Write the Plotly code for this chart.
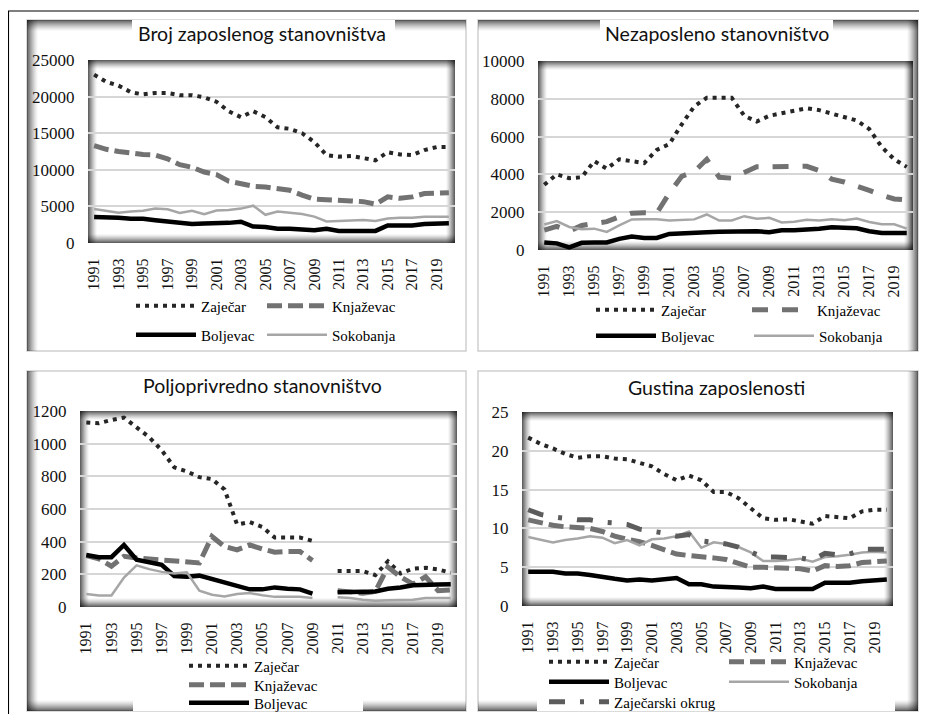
import plotly.graph_objects as go

years = list(range(1991, 2021))
tick_years = list(range(1991, 2020, 2))
tick_labels = [str(y) for y in tick_years]

# Panel 1: Broj zaposlenog stanovništva
p1_zajecar = [23000, 22000, 21500, 20600, 20300, 20500, 20500, 20200, 20200, 19900,
              19300, 18000, 17200, 18000, 17200, 15800, 15600, 15000, 13800, 12000,
              11800, 11900, 11600, 11300, 12400, 12100, 12000, 12700, 13100, 13100]
p1_knjazevac = [13300, 12800, 12500, 12250, 12100, 12000, 11500, 10700, 10350, 9700,
                9350, 8450, 8100, 7750, 7650, 7450, 7200, 6550, 6000, 5900,
                5750, 5750, 5650, 5300, 6300, 6100, 6300, 6750, 6800, 6850]
p1_boljevac = [3550, 3550, 3450, 3300, 3300, 3100, 2950, 2750, 2600, 2650,
               2650, 2750, 2900, 2250, 2200, 1950, 1950, 1900, 1750, 1950,
               1650, 1650, 1600, 1650, 2400, 2400, 2400, 2600, 2700, 2700]
p1_sokobanja = [4650, 4350, 4150, 4300, 4400, 4700, 4600, 4100, 4400, 3950,
                4450, 4500, 4700, 5100, 3850, 4300, 4150, 3950, 3600, 2950,
                3000, 3100, 3150, 3000, 3350, 3450, 3450, 3600, 3600, 3600]

# Panel 2: Nezaposleno stanovništvo
p2_zajecar = [3450, 4000, 3800, 3850, 4700, 4300, 4800, 4700, 4600, 5300,
              5600, 6650, 7600, 8050, 8050, 8050, 7100, 6800, 7100, 7250,
              7400, 7500, 7400, 7200, 7000, 6850, 6400, 5450, 4800, 4400]
p2_knjazevac = [1050, 1250, 1000, 1300, 1400, 1500, 1750, 1950, 1970, 1950,
                3000, 3900, 4150, 4800, 3850, 3800, 4100, 4400, 4400, 4420,
                4430, 4430, 4200, 3750, 3600, 3400, 3150, 2900, 2700, 2650]
p2_boljevac = [400, 350, 140, 380, 400, 400, 590, 710, 640, 640,
               850, 900, 940, 940, 960, 970, 990, 990, 940, 1040,
               1040, 1060, 1130, 1200, 1150, 1150, 990, 900, 900, 900]
p2_sokobanja = [1350, 1530, 1220, 1100, 1130, 960, 1300, 1620, 1630, 1630,
                1560, 1600, 1620, 1880, 1560, 1560, 1790, 1650, 1700, 1460,
                1500, 1600, 1560, 1630, 1580, 1670, 1480, 1360, 1360, 1130]

# Panel 3: Poljoprivredno stanovništvo (2010 missing)
p3_zajecar = [1130, 1125, 1145, 1160, 1100, 1040, 960, 855, 830, 795,
              783, 720, 505, 520, 490, 425, 425, 425, 405, None,
              220, 220, 220, 195, 280, 205, 235, 240, 230, 210]
p3_knjazevac = [315, 295, 250, 310, 300, 295, 290, 280, 275, 270,
                432, 370, 350, 380, 355, 335, 340, 340, 285, None,
                100, 90, 85, 95, 245, 185, 140, 185, 100, 105]
p3_boljevac = [318, 305, 305, 380, 290, 276, 258, 190, 185, 192,
               172, 153, 133, 108, 108, 120, 112, 108, 82, None,
               90, 90, 90, 95, 112, 119, 133, 138, 138, 140]
p3_sokobanja = [80, 70, 70, 180, 255, 232, 215, 205, 212, 100,
                75, 65, 80, 85, 72, 62, 62, 62, 55, None,
                60, 55, 45, 38, 42, 42, 45, 55, 55, 55]

# Panel 4: Gustina zaposlenosti
p4_zajecar = [21.7, 20.9, 20.3, 19.6, 19.1, 19.3, 19.3, 19.0, 18.9, 18.5,
              18.0, 17.0, 16.2, 16.8, 16.2, 14.7, 14.7, 13.9, 12.6, 11.3,
              11.1, 11.2, 10.9, 10.6, 11.6, 11.4, 11.3, 12.2, 12.4, 12.4]
p4_knjazevac = [11.1, 10.7, 10.4, 10.2, 10.1, 10.0, 9.6, 9.0, 8.6, 8.3,
                7.8, 7.2, 6.7, 6.5, 6.4, 6.2, 6.0, 5.5, 5.0, 5.0,
                4.9, 4.9, 4.8, 4.5, 5.2, 5.1, 5.2, 5.6, 5.7, 5.8]
p4_boljevac = [4.4, 4.4, 4.4, 4.2, 4.2, 4.0, 3.7, 3.5, 3.3, 3.4,
               3.3, 3.4, 3.6, 2.8, 2.8, 2.5, 2.5, 2.4, 2.3, 2.5,
               2.2, 2.2, 2.2, 2.2, 3.0, 3.0, 3.0, 3.2, 3.3, 3.4]
p4_sokobanja = [8.9, 8.5, 8.2, 8.5, 8.7, 9.0, 8.8, 8.1, 8.5, 7.8,
                8.6, 8.7, 9.0, 9.6, 7.5, 8.2, 8.0, 7.6, 6.9, 5.8,
                5.8, 5.9, 6.1, 5.7, 6.3, 6.4, 6.6, 6.9, 7.0, 6.9]
p4_okrug = [12.4, 11.8, 11.5, 11.3, 11.1, 11.1, 10.8, 10.7, 10.5, 9.9,
            9.7, 9.4, 9.0, 9.2, 8.4, 8.2, 8.0, 7.6, 7.0, 6.3,
            6.3, 6.3, 6.2, 5.9, 6.8, 6.6, 6.7, 7.3, 7.3, 7.3]

titles = ["Broj zaposlenog stanovništva", "Nezaposleno stanovništvo",
          "Poljoprivredno stanovništvo", "Gustina zaposlenosti"]
names = ["Zaječar", "Knjaževac", "Boljevac", "Sokobanja", "Zaječarski okrug"]

# ---------------- geometry (page pixels) ----------------
W, H = 911, 706
OX, OY = 8, 8


def fx(X):
    return (X - OX) / W


def fy(Y):
    return 1 - (Y - OY) / H


panels = [(27, 20, 466, 351), (478, 20, 918, 351), (27, 371, 466, 711), (478, 371, 918, 711)]
plots = [(88, 60, 455, 243), (538, 61, 913, 250), (80, 411, 457, 607), (522, 412, 893, 606)]
title_pos = [(262, 34), (717, 33), (262, 385), (716, 387)]
title_boxes = [(132, 20, 395, 48), (600, 20, 833, 48), None, None]
panel_shadow_sides = [("left", "top"), ("top", "right"), ("left", "bottom"), ("right", "bottom")]
legend_boxes = [None, None, (133, 650, 363, 711), (537, 650, 895, 711)]
yranges = [25000, 10000, 1200, 25]
ydticks = [5000, 2000, 200, 5]

styles = {
    "Zaječar": dict(color="#262626", width=4, dash="4px,5px"),
    "Knjaževac": dict(color="#727272", width=5, dash="15px,6px"),
    "Boljevac": dict(color="#000000", width=4.5),
    "Sokobanja": dict(color="#a6a6a6", width=2.5),
    "Zaječarski okrug": dict(color="#5c5c5c", width=5, dash="16px,15px,4px,15px"),
}

fig = go.Figure()

panel_series = [
    [("Zaječar", p1_zajecar), ("Knjaževac", p1_knjazevac), ("Boljevac", p1_boljevac), ("Sokobanja", p1_sokobanja)],
    [("Zaječar", p2_zajecar), ("Knjaževac", p2_knjazevac), ("Boljevac", p2_boljevac), ("Sokobanja", p2_sokobanja)],
    [("Zaječar", p3_zajecar), ("Knjaževac", p3_knjazevac), ("Boljevac", p3_boljevac), ("Sokobanja", p3_sokobanja)],
    [("Zaječar", p4_zajecar), ("Knjaževac", p4_knjazevac), ("Boljevac", p4_boljevac), ("Sokobanja", p4_sokobanja),
     ("Zaječarski okrug", p4_okrug)],
]

# legend entry positions: (sample start x, center y)
legend_pos = [
    {"Zaječar": (137, 306), "Knjaževac": (268, 306), "Boljevac": (137, 335), "Sokobanja": (268, 335)},
    {"Zaječar": (597, 310), "Knjaževac": (753, 310), "Boljevac": (597, 336), "Sokobanja": (755, 336)},
    {"Zaječar": (190, 666), "Knjaževac": (190, 685), "Boljevac": (190, 703)},
    {"Zaječar": (550, 662), "Knjaževac": (730, 662), "Boljevac": (550, 682), "Sokobanja": (730, 682),
     "Zaječarski okrug": (550, 702)},
]

SERIF = "Liberation Serif"

legend_layouts = {}
leg_count = 0
for p, series in enumerate(panel_series):
    ax = "" if p == 0 else str(p + 1)
    for name, vals in series:
        st = dict(styles[name])
        if name == "Knjaževac" and p == 1:
            st["dash"] = "16px,14px"
        show = name in legend_pos[p]
        kw = {}
        if show:
            leg_count += 1
            lname = "legend" if leg_count == 1 else "legend%d" % leg_count
            kw["legend"] = lname
            Xs, Yc = legend_pos[p][name]
            legend_layouts[lname] = dict(
                x=fx(Xs - 6), y=fy(Yc), xanchor="left", yanchor="middle",
                bgcolor="rgba(0,0,0,0)", borderwidth=0, itemwidth=60,
                font=dict(family=SERIF, size=15, color="#000000"),
            )
        fig.add_trace(go.Scatter(
            x=years, y=vals, name=name, mode="lines", line=st,
            xaxis="x" + ax, yaxis="y" + ax, showlegend=show, connectgaps=False,
            hoverinfo="skip", **kw))

shapes = []


def rect(X0, Y0, X1, Y1, fill=None, line=None, layer="below"):
    d = dict(type="rect", xref="paper", yref="paper",
             x0=fx(X0), x1=fx(X1), y0=fy(Y1), y1=fy(Y0), layer=layer,
             line=line if line else dict(width=0))
    if fill:
        d["fillcolor"] = fill
    shapes.append(d)


def gradient(box, side, n, amax):
    X0, Y0, X1, Y1 = box
    for i in range(n):
        a = amax * (1 - i / n) ** 1.4
        col = "rgba(0,0,0,%.3f)" % a
        if side == "left":
            rect(X0 + i, Y0, X0 + i + 1, Y1, fill=col)
        elif side == "right":
            rect(X1 - i - 1, Y0, X1 - i, Y1, fill=col)
        elif side == "top":
            rect(X0, Y0 + i, X1, Y0 + i + 1, fill=col)
        elif side == "bottom":
            rect(X0, Y1 - i - 1, X1, Y1 - i, fill=col)


for p in range(4):
    pb = panels[p]
    rect(*pb, fill="white", line=dict(color="#cfcfcf", width=1.5))
    for side in panel_shadow_sides[p]:
        gradient(pb, side, 11, 0.6)
    if title_boxes[p]:
        rect(*title_boxes[p], fill="white")
    if legend_boxes[p]:
        rect(*legend_boxes[p], fill="white")
    pa = plots[p]
    for side in ("left", "top", "right", "bottom"):
        gradient(pa, side, 9, 0.62)

# outer frame lines
shapes.append(dict(type="line", xref="paper", yref="paper", x0=0.0005, x1=0.0005,
                   y0=0, y1=fy(11), line=dict(color="black", width=1.2), layer="above"))
shapes.append(dict(type="line", xref="paper", yref="paper", x0=0, x1=1,
                   y0=fy(11), y1=fy(11), line=dict(color="black", width=1.2), layer="above"))

annotations = []
for p in range(4):
    annotations.append(dict(
        text=titles[p], x=fx(title_pos[p][0]), y=fy(title_pos[p][1]), xref="paper", yref="paper",
        xanchor="center", yanchor="middle", showarrow=False,
        font=dict(family="Lato", size=19.5, color="#111111")))

layout = dict(
    width=W, height=H, margin=dict(l=0, r=0, t=0, b=0, autoexpand=False),
    paper_bgcolor="white", plot_bgcolor="white",
    font=dict(family=SERIF, color="#111111"),
    shapes=shapes, annotations=annotations, hovermode=False,
)

tickfont_y = dict(family=SERIF, size=17, color="#111111")
tickfont_x = dict(family=SERIF, size=16, color="#111111")

for p in range(4):
    ax = "" if p == 0 else str(p + 1)
    X0, Y0, X1, Y1 = plots[p]
    layout["xaxis" + ax] = dict(
        domain=[fx(X0), fx(X1)], anchor="y" + ax, range=[1990.5, 2020.5],
        tickmode="array", tickvals=tick_years, ticktext=tick_labels, tickangle=-90,
        showgrid=False, zeroline=False, showline=False,
        ticks="outside", ticklen=8, tickcolor="rgba(0,0,0,0)", tickfont=tickfont_x)
    layout["yaxis" + ax] = dict(
        domain=[fy(Y1), fy(Y0)], anchor="x" + ax, range=[0, yranges[p]],
        dtick=ydticks[p], tick0=0, tickformat="d",
        showgrid=True, gridcolor="#d6d6d6", gridwidth=1.5, zeroline=False, showline=False,
        ticks="outside", ticklen=9, tickcolor="rgba(0,0,0,0)", tickfont=tickfont_y)

layout.update(legend_layouts)
fig.update_layout(**layout)
fig.write_html("out.html")
